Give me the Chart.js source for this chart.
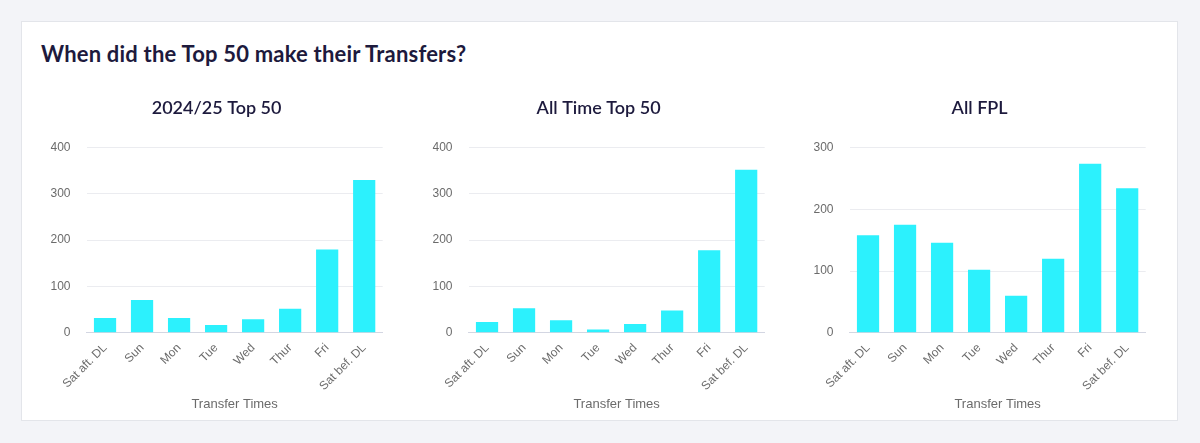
<!DOCTYPE html>
<html>
<head>
<meta charset="utf-8">
<script src="https://cdn.jsdelivr.net/npm/chart.js@4"></script>
<style>
  html, body { margin: 0; padding: 0; }
  body { width: 1200px; height: 443px; background: #f3f4f8; position: relative; overflow: hidden; }
  .card { position: absolute; left: 21px; top: 21px; width: 1155px; height: 398px; background: #fff; border: 1px solid #e3e5ea; }
  h1 { position: absolute; left: 41px; top: 40px; margin: 0; font: 700 22px Lato, sans-serif; color: #1d1a3d; letter-spacing: 0.2px; }
  .box { position: absolute; top: 88px; width: 351px; height: 330px; }
</style>
</head>
<body>
<div class="card"></div>
<h1>When did the Top 50 make their Transfers?</h1>
<div class="box" style="left:41px"><canvas id="c0"></canvas></div>
<div class="box" style="left:422.5px"><canvas id="c1"></canvas></div>
<div class="box" style="left:804px"><canvas id="c2"></canvas></div>
<script>
const categories = ["Sat aft. DL", "Sun", "Mon", "Tue", "Wed", "Thur", "Fri", "Sat bef. DL"];
const season2425 = [32, 71, 32, 17, 29, 52, 180, 330];
const allTimeTop50 = [23, 53, 27, 7, 19, 48, 178, 352];
const allFpl = [158, 175, 146, 102, 60, 120, 274, 234];
const chartTitles = ["2024/25 Top 50", "All Time Top 50", "All FPL"];
const yMax = [400, 400, 300];

const series = [season2425, allTimeTop50, allFpl];
const tickFont = "'Liberation Sans', Arial, sans-serif";

series.forEach((vals, i) => {
  new Chart(document.getElementById('c' + i), {
    type: 'bar',
    data: {
      labels: categories,
      datasets: [{
        data: vals,
        backgroundColor: '#2cf1fd',
        barPercentage: 0.75,
        categoryPercentage: 0.8
      }]
    },
    options: {
      responsive: true,
      maintainAspectRatio: false,
      animation: false,
      layout: { padding: { left: 9.5, right: 9.3, bottom: 2 } },
      plugins: {
        legend: { display: false },
        tooltip: { enabled: false },
        title: {
          display: true,
          text: chartTitles[i],
          color: '#1d1a3d',
          font: { family: 'Lato, sans-serif', size: 18, weight: '600' },
          padding: { top: 9, bottom: 29 }
        }
      },
      scales: {
        x: {
          grid: { display: false },
          border: { display: true, color: '#d3d6e2' },
          ticks: {
            color: '#6b6b6b',
            font: { family: tickFont, size: 12 },
            minRotation: 45,
            maxRotation: 45,
            padding: 0
          },
          title: {
            display: true,
            text: 'Transfer Times',
            color: '#6b6b6b',
            font: { family: tickFont, size: 13 },
            padding: { top: 3, bottom: 4 }
          },
          // let the rotated first label hang into the margin instead of pushing the plot
          afterFit: (scale) => { scale.paddingLeft = 0; scale.paddingRight = 0; }
        },
        y: {
          min: 0,
          max: yMax[i],
          grid: { color: '#ebecf0', drawTicks: false },
          border: { display: false },
          ticks: {
            stepSize: 100,
            color: '#6b6b6b',
            font: { family: tickFont, size: 12 },
            padding: 16
          },
          // tick padding is counted twice in the width, drop the outer half
          afterFit: (scale) => { scale.width -= 16; }
        }
      }
    }
  });
});
</script>
</body>
</html>
